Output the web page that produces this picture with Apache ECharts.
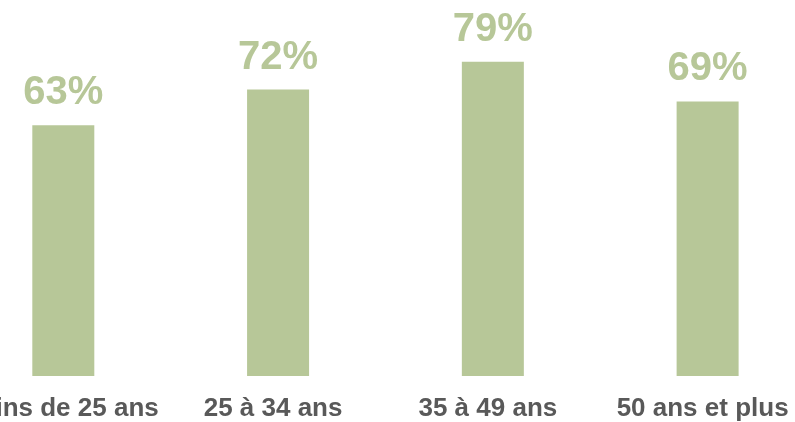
<!DOCTYPE html>
<html>
<head>
<meta charset="utf-8">
<script src="https://cdn.jsdelivr.net/npm/echarts@6/dist/echarts.min.js"></script>
<style>
html,body{margin:0;padding:0;background:#fff;overflow:hidden;width:795px;height:422px;}
#wrap{position:relative;width:795px;height:422px;overflow:hidden;}
#c{position:absolute;left:-45px;top:0;width:860px;height:422px;}
</style>
</head>
<body>
<div id="wrap"><div id="c"></div></div>
<script>
const categories = ["Moins de 25 ans", "25 à 34 ans", "35 à 49 ans", "50 ans et plus"];
const values = [63, 72, 79, 69];

const chart = echarts.init(document.getElementById('c'), null, {renderer: 'canvas'});
chart.setOption({
  animation: false,
  grid: {left: 0, right: 0, top: 0, bottom: 41, containLabel: false},
  xAxis: {
    type: 'category',
    data: categories,
    axisLine: {show: false},
    axisTick: {show: false},
    axisLabel: {
      interval: 0,
      margin: 20,
      padding: [0, 10, 0, 0],
      color: '#595959',
      fontFamily: 'Liberation Sans, Arial, sans-serif',
      fontWeight: 'bold',
      fontSize: 26
    }
  },
  yAxis: {
    type: 'value',
    min: 0,
    max: 94.5,
    show: false,
    splitLine: {show: false}
  },
  series: [{
    type: 'bar',
    data: values,
    barWidth: 62,
    itemStyle: {color: '#b7c798'},
    label: {
      show: true,
      position: 'top',
      distance: 12,
      formatter: '{c}%',
      color: '#b7c798',
      fontFamily: 'Liberation Sans, Arial, sans-serif',
      fontWeight: 'bold',
      fontSize: 40
    }
  }]
});
</script>
</body>
</html>
